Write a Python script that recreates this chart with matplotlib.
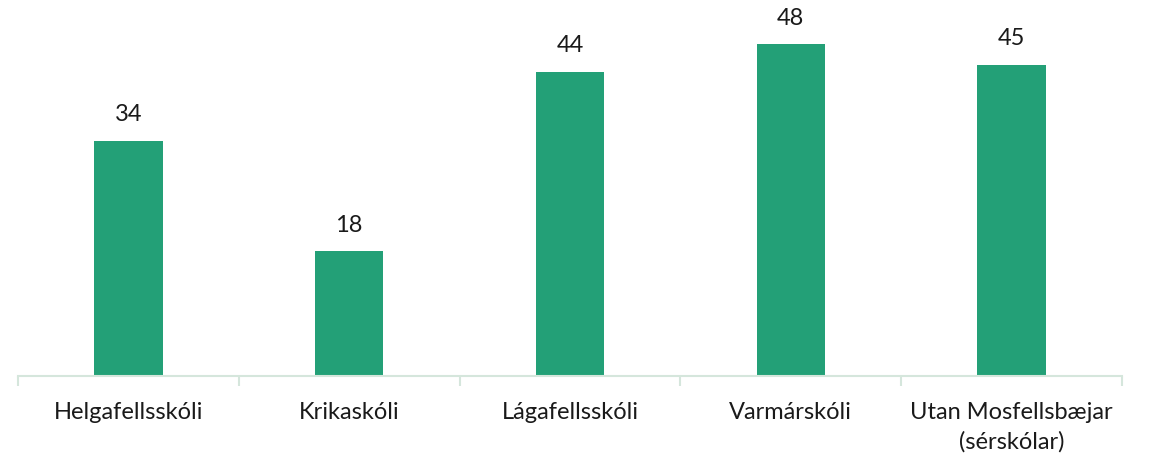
import matplotlib.pyplot as plt
import numpy as np

plt.rcParams['font.family'] = ['Lato', 'DejaVu Sans']

categories = ['Helgafellsskóli', 'Krikaskóli', 'Lágafellsskóli', 'Varmárskóli',
              'Utan Mosfellsbæjar\n(sérskólar)']
values = [34, 18, 44, 48, 45]

BAR_COLOR = '#23A077'
AXIS_COLOR = '#D5E6DC'

fig = plt.figure(figsize=(11.5, 4.59), dpi=100)
ax = fig.add_axes([0.01565, 0.1808, 0.96, 0.784])

x = np.arange(len(categories))
bars = ax.bar(x, values, width=0.31, color=BAR_COLOR, zorder=2)

for xi, v in zip(x, values):
    ax.annotate(str(v), (xi, v), xytext=(0, 11), textcoords='offset points',
                ha='center', va='bottom', fontsize=17, color='#1a1a1a')

ax.set_xlim(-0.5, len(categories) - 0.5)
ax.set_ylim(0, 52)
ax.set_yticks([])

for side in ['top', 'right', 'left']:
    ax.spines[side].set_visible(False)
ax.spines['bottom'].set_color(AXIS_COLOR)
ax.spines['bottom'].set_linewidth(1.5)

# category labels, boundary ticks
ax.set_xticks(x)
ax.set_xticklabels(categories, fontsize=17, color='#1a1a1a', linespacing=1.45)
ax.tick_params(axis='x', which='major', length=0, pad=19)
ax.set_xticks(np.arange(len(categories) + 1) - 0.5, minor=True)
ax.tick_params(axis='x', which='minor', length=7, width=1.5, color=AXIS_COLOR)

fig.savefig('out.png', dpi=100)
